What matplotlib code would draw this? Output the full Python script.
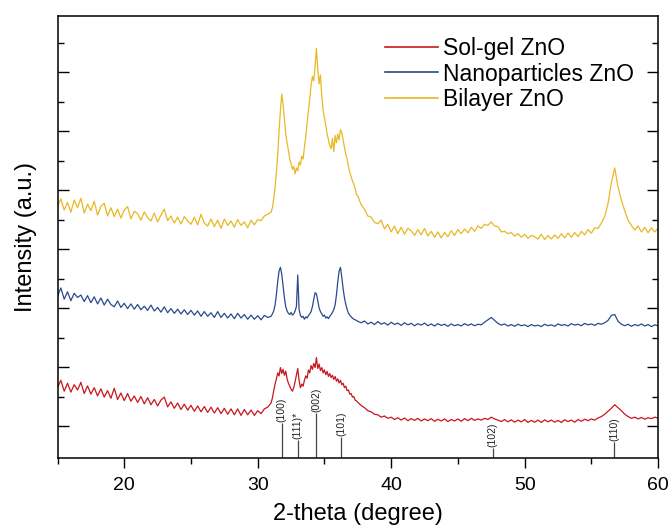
import numpy as np
import matplotlib
matplotlib.use('Agg')
import matplotlib.pyplot as plt
from matplotlib.ticker import MultipleLocator

plt.rcParams['font.family'] = ['Liberation Sans', 'DejaVu Sans']

# 2-theta sampling grid (coarse outside the main ZnO peaks, finer around 31-37.4)
x_lo = np.arange(15.0, 30.99, 0.25)
x_mid = np.round(np.arange(31.0, 37.45, 0.1), 2)
x_hi = np.arange(37.5, 60.01, 0.25)

# Bilayer ZnO (offset trace)
bilayer_lo = [8.45, 8.70, 8.32, 8.58, 8.25, 8.66, 8.40, 8.72,
              8.22, 8.52, 8.30, 8.62, 8.15, 8.45, 8.55, 8.12,
              8.40, 8.10, 8.35, 8.05, 8.32, 8.44, 8.02, 8.28,
              8.20, 7.98, 8.26, 8.06, 7.95, 8.22, 7.92, 8.15,
              8.35, 7.96, 8.12, 7.88, 8.08, 7.85, 8.10, 7.95,
              7.84, 8.08, 7.82, 8.18, 7.88, 7.78, 8.02, 7.76,
              7.98, 7.70, 8.02, 7.80, 7.95, 7.74, 8.00, 7.80,
              7.92, 7.72, 7.98, 7.82, 8.00, 7.96, 8.12, 8.18]
bilayer_mid = [8.25, 8.40, 8.70, 9.10, 9.60, 10.20, 11.00, 11.70, 12.25, 11.90,
               11.40, 10.90, 10.60, 10.35, 10.05, 9.90, 9.70, 9.80, 9.55, 9.75,
               9.65, 9.95, 9.85, 10.15, 10.05, 10.45, 10.80, 11.25, 11.70, 12.10,
               12.55, 12.85, 12.70, 13.20, 13.80, 13.10, 12.60, 12.90, 12.20, 11.70,
               11.45, 11.20, 10.90, 10.70, 10.50, 10.40, 10.75, 10.30, 10.85, 10.60,
               10.90, 10.70, 11.05, 10.95, 10.70, 10.45, 10.20, 10.05, 9.80, 9.60,
               9.45, 9.30, 9.20, 9.05, 8.85]
bilayer_hi = [8.80, 8.50, 8.35, 8.12, 8.08, 7.90, 7.86, 7.98,
              7.68, 7.84, 7.58, 7.78, 7.52, 7.74, 7.50, 7.70,
              7.62, 7.46, 7.66, 7.48, 7.70, 7.44, 7.60, 7.40,
              7.58, 7.38, 7.56, 7.42, 7.62, 7.46, 7.66, 7.52,
              7.68, 7.55, 7.74, 7.60, 7.78, 7.70, 7.84, 7.80,
              7.92, 7.78, 7.76, 7.58, 7.60, 7.52, 7.56, 7.44,
              7.52, 7.40, 7.50, 7.36, 7.46, 7.42, 7.34, 7.50,
              7.32, 7.46, 7.34, 7.48, 7.36, 7.52, 7.38, 7.54,
              7.40, 7.56, 7.42, 7.60, 7.48, 7.66, 7.54, 7.72,
              7.70, 7.88, 8.10, 8.55, 9.25, 9.75, 9.10, 8.65,
              8.30, 7.98, 7.80, 7.64, 7.78, 7.58, 7.74, 7.55,
              7.72, 7.58, 7.70]

# Nanoparticles ZnO
nano_lo = [5.40, 5.68, 5.30, 5.55, 5.25, 5.50, 5.36, 5.44,
           5.22, 5.42, 5.18, 5.38, 5.14, 5.34, 5.10, 5.30,
           5.12, 5.04, 5.24, 5.02, 5.16, 4.98, 5.14, 4.96,
           5.12, 4.94, 5.06, 4.92, 5.10, 4.90, 5.02, 4.86,
           5.04, 4.84, 4.98, 4.82, 4.96, 4.80, 4.94, 4.78,
           4.92, 4.76, 4.90, 4.72, 4.88, 4.72, 4.84, 4.68,
           4.88, 4.68, 4.82, 4.66, 4.80, 4.64, 4.82, 4.66,
           4.78, 4.62, 4.76, 4.62, 4.74, 4.60, 4.75, 4.68]
nano_mid = [4.72, 4.80, 4.90, 5.10, 5.45, 5.90, 6.25, 6.38, 6.15, 5.75,
            5.35, 5.05, 4.90, 4.82, 4.78, 4.85, 4.76, 4.80, 4.90, 5.05,
            6.12, 4.95, 4.75, 4.68, 4.72, 4.62, 4.70, 4.66, 4.74, 4.80,
            4.88, 5.05, 5.30, 5.52, 5.48, 5.25, 5.00, 4.88, 4.80, 4.72,
            4.76, 4.66, 4.70, 4.64, 4.72, 4.78, 4.85, 4.95, 5.10, 5.45,
            5.90, 6.25, 6.38, 6.05, 5.65, 5.35, 5.12, 4.95, 4.82, 4.76,
            4.70, 4.66, 4.62, 4.60, 4.58]
nano_hi = [4.55, 4.50, 4.56, 4.46, 4.52, 4.44, 4.54, 4.45,
           4.50, 4.42, 4.52, 4.44, 4.49, 4.41, 4.50, 4.43,
           4.48, 4.40, 4.47, 4.42, 4.49, 4.40, 4.46, 4.39,
           4.47, 4.41, 4.45, 4.38, 4.46, 4.40, 4.44, 4.39,
           4.47, 4.41, 4.46, 4.40, 4.45, 4.43, 4.52, 4.60,
           4.68, 4.58, 4.48, 4.42, 4.46, 4.39, 4.44, 4.38,
           4.45, 4.40, 4.43, 4.37, 4.44, 4.39, 4.42, 4.37,
           4.45, 4.40, 4.43, 4.38, 4.46, 4.41, 4.44, 4.39,
           4.47, 4.42, 4.45, 4.40, 4.48, 4.43, 4.46, 4.41,
           4.48, 4.45, 4.50, 4.58, 4.75, 4.78, 4.55, 4.45,
           4.40, 4.45, 4.38, 4.44, 4.40, 4.46, 4.39, 4.44,
           4.37, 4.43, 4.40]

# Sol-gel ZnO
solgel_lo = [2.30, 2.55, 2.18, 2.45, 2.15, 2.40, 2.22, 2.48,
             2.10, 2.36, 2.08, 2.30, 2.02, 2.26, 1.98, 2.20,
             1.94, 2.28, 1.90, 2.12, 1.86, 2.10, 1.84, 2.02,
             1.80, 2.00, 1.75, 1.96, 1.72, 1.90, 1.68, 1.88,
             1.98, 1.65, 1.82, 1.60, 1.78, 1.56, 1.74, 1.54,
             1.70, 1.50, 1.68, 1.48, 1.66, 1.46, 1.64, 1.44,
             1.62, 1.42, 1.60, 1.40, 1.58, 1.38, 1.58, 1.36,
             1.56, 1.38, 1.54, 1.36, 1.52, 1.42, 1.58, 1.64]
solgel_mid = [1.78, 1.95, 2.20, 2.42, 2.60, 2.80, 2.70, 2.98, 2.78, 2.92,
              2.72, 2.86, 2.60, 2.45, 2.35, 2.25, 2.18, 2.30, 2.50, 2.72,
              2.95, 2.55, 2.30, 2.42, 2.35, 2.55, 2.70, 2.62, 2.90, 2.80,
              3.05, 2.92, 3.12, 2.98, 3.32, 2.95, 3.10, 2.88, 2.98, 2.80,
              2.90, 2.74, 2.85, 2.68, 2.78, 2.64, 2.72, 2.58, 2.68, 2.52,
              2.60, 2.46, 2.55, 2.40, 2.45, 2.30, 2.35, 2.20, 2.22, 2.08,
              2.10, 1.98, 2.00, 1.88, 1.85]
solgel_hi = [1.80, 1.70, 1.62, 1.52, 1.48, 1.40, 1.38, 1.30,
             1.34, 1.26, 1.30, 1.22, 1.28, 1.20, 1.27, 1.18,
             1.25, 1.19, 1.26, 1.17, 1.24, 1.18, 1.25, 1.16,
             1.23, 1.17, 1.24, 1.15, 1.22, 1.17, 1.24, 1.16,
             1.25, 1.18, 1.26, 1.19, 1.24, 1.20, 1.26, 1.22,
             1.30, 1.24, 1.20, 1.15, 1.22, 1.14, 1.21, 1.13,
             1.20, 1.14, 1.22, 1.12, 1.19, 1.13, 1.20, 1.12,
             1.21, 1.14, 1.20, 1.13, 1.19, 1.12, 1.21, 1.15,
             1.20, 1.13, 1.22, 1.16, 1.23, 1.18, 1.24, 1.20,
             1.27, 1.32, 1.40, 1.50, 1.60, 1.72, 1.62, 1.52,
             1.40, 1.32, 1.26, 1.30, 1.24, 1.29, 1.23, 1.28,
             1.25, 1.30, 1.27]

# reference pattern sticks
stick_pos = [31.8, 33.0, 34.4, 36.25, 47.6, 56.7]
stick_height = [1.10, 0.53, 1.44, 0.63, 0.25, 0.46]
stick_label = ['(100)', '(111)*', '(002)', '(101)', '(102)', '(110)']

YMIN, YMAX = -0.085, 14.9


def join(lo, mid, hi):
    return np.concatenate([lo, mid, hi])


x = join(x_lo, x_mid, x_hi)
series = [('Sol-gel ZnO', join(solgel_lo, solgel_mid, solgel_hi), '#C8161D'),
          ('Nanoparticles ZnO', join(nano_lo, nano_mid, nano_hi), '#2B4A8C'),
          ('Bilayer ZnO', join(bilayer_lo, bilayer_mid, bilayer_hi), '#E9B824')]

fig = plt.figure(figsize=(6.72, 5.25), dpi=100)
ax = fig.add_axes([0.0856, 0.1276, 0.8937, 0.8419])

for name, y, col in series:
    ax.plot(x, y, color=col, linewidth=0.9, label=name)

# sticks + rotated hkl labels
ax.vlines(stick_pos, YMIN, stick_height, color='#444444', linewidth=0.9)
for pos, h, lab in zip(stick_pos, stick_height, stick_label):
    ax.text(pos, h + 0.03, lab, rotation=90, ha='center', va='bottom',
            fontsize=7.5, color='#222222')

ax.set_xlim(15, 60)
ax.set_ylim(YMIN, YMAX)
ax.xaxis.set_major_locator(MultipleLocator(10))
ax.xaxis.set_minor_locator(MultipleLocator(5))
ax.set_yticks(np.arange(1, 14, 2))
ax.set_yticks(np.arange(2, 15, 2), minor=True)

ax.tick_params(axis='x', which='both', direction='out', top=False, labelsize=14, pad=7)
ax.tick_params(axis='x', which='major', length=7, width=1)
ax.tick_params(axis='x', which='minor', length=4, width=1)
ax.tick_params(axis='y', which='both', direction='in', left=True, right=True, labelleft=False)
ax.tick_params(axis='y', which='major', length=8, width=1)
ax.tick_params(axis='y', which='minor', length=4, width=1)
for s in ax.spines.values():
    s.set_linewidth(1.1)

ax.set_xlabel('2-theta (degree)', fontsize=17, labelpad=6)
ax.set_ylabel('Intensity (a.u.)', fontsize=17, labelpad=15)

leg = ax.legend(loc='upper left', bbox_to_anchor=(0.545, 0.952), frameon=False,
                fontsize=16.5, handlelength=2.3, handletextpad=0.25,
                labelspacing=0.1, borderpad=0, borderaxespad=0)
for line in leg.get_lines():
    line.set_linewidth(1.2)

fig.savefig('out.png', dpi=100)
